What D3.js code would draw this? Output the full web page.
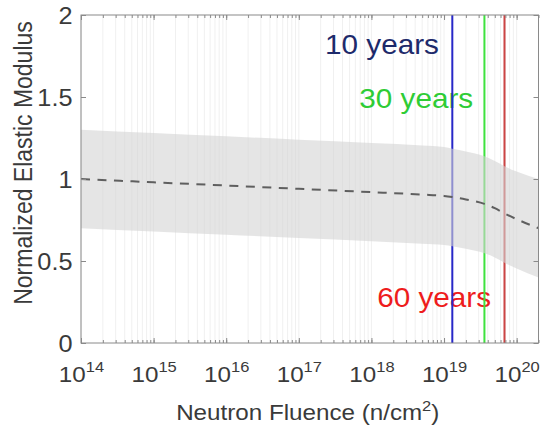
<!DOCTYPE html>
<html>
<head>
<meta charset="utf-8">
<script src="https://cdn.jsdelivr.net/npm/d3@7"></script>
<style>
  body { margin: 0; background: #fff; }
  text { font-family: Arial, "Liberation Sans", sans-serif; }
</style>
</head>
<body>
<div id="chart"></div>
<script>
// data
const fluence       = [1e14, 1e15, 1e16, 1e17, 1e18, 5e18, 1e19, 1.3e19, 2e19, 3.6e19, 5e19, 6.8e19, 1e20, 2e20];
const meanModulus   = [1.00, 0.98, 0.96, 0.94, 0.92, 0.905, 0.897, 0.89, 0.875, 0.848, 0.822, 0.79, 0.755, 0.70];
const upperModulus  = [1.30, 1.28, 1.26, 1.24, 1.22, 1.205, 1.195, 1.185, 1.168, 1.138, 1.11, 1.078, 1.045, 1.00];
const lowerModulus  = [0.70, 0.68, 0.66, 0.64, 0.62, 0.605, 0.597, 0.59, 0.575, 0.548, 0.522, 0.49, 0.455, 0.40];

const periodLabels  = ["10 years", "30 years", "60 years"];
const periodFluence = [1.3e19, 3.6e19, 6.8e19];

const xTickExponents = [14, 15, 16, 17, 18, 19, 20];
const yTickValues    = [0, 0.5, 1, 1.5, 2];


// layout
const W = 543, H = 430;
const margin = {top: 15, right: 4.5, bottom: 87, left: 81};
const width = W - margin.left - margin.right;
const height = H - margin.top - margin.bottom;
const stretch = 1.1;   // the source picture is slightly wider than tall

const svg = d3.select("#chart").append("svg")
  .attr("width", W)
  .attr("height", H);

const chart = svg.append("g")
  .attr("transform", `translate(${margin.left},${margin.top})`);


// scales
const x = d3.scaleLog()
  .domain([1e14, 2e20])
  .range([0, width]);

const y = d3.scaleLinear()
  .domain([0, 2])
  .range([height, 0]);


// minor tick values 1..9 x 10^n inside the domain
const minorValues = [];
for (let e = 14; e <= 20; e++) {
  for (let m = 1; m <= 9; m++) {
    const v = m * Math.pow(10, e);
    if (v <= 2e20) minorValues.push(v);
  }
}


// grid
chart.append("g")
  .attr("class", "grid")
  .selectAll("line")
  .data(minorValues)
  .join("line")
    .attr("x1", d => x(d))
    .attr("x2", d => x(d))
    .attr("y1", 0)
    .attr("y2", height)
    .attr("stroke", "#f0f0f0")
    .attr("stroke-width", 1);


// period labels (lines are drawn over them)
const labelColors = ["#1d2a6b", "#2ecc35", "#ee1c1c"];
const labelSpots  = [{f: 2.3e17, v: 1.76}, {f: 6.8e17, v: 1.43}, {f: 1.2e18, v: 0.22}];

chart.append("g")
  .selectAll("text")
  .data(periodLabels)
  .join("text")
    .attr("transform", (d, i) => `translate(${x(labelSpots[i].f)},${y(labelSpots[i].v)}) scale(${stretch},1)`)
    .attr("font-size", 27)
    .attr("fill", (d, i) => labelColors[i])
    .text(d => d);


// vertical period lines
const lineColors = ["#2828c8", "#3ee23e", "#cc4444"];

chart.append("g")
  .selectAll("line")
  .data(periodFluence)
  .join("line")
    .attr("x1", d => x(d))
    .attr("x2", d => x(d))
    .attr("y1", 0)
    .attr("y2", height)
    .attr("stroke", (d, i) => lineColors[i])
    .attr("stroke-width", 2);


// uncertainty band
const band = d3.area()
  .x((d, i) => x(fluence[i]))
  .y0((d, i) => y(lowerModulus[i]))
  .y1((d, i) => y(upperModulus[i]))
  .curve(d3.curveMonotoneX);

chart.append("path")
  .datum(fluence)
  .attr("d", band)
  .attr("fill", "#d4d4d4")
  .attr("fill-opacity", 0.6);


// mean curve
const meanLine = d3.line()
  .x((d, i) => x(fluence[i]))
  .y((d, i) => y(meanModulus[i]))
  .curve(d3.curveMonotoneX);

chart.append("path")
  .datum(fluence)
  .attr("d", meanLine)
  .attr("fill", "none")
  .attr("stroke", "#5f5f5f")
  .attr("stroke-width", 2)
  .attr("stroke-dasharray", "9,7.5");


// axes
const axisColor = "#8a8a8a";
const labelColor = "#3a3a3a";
const majorValues = xTickExponents.map(e => Math.pow(10, e));

function styleAxis(g) {
  g.selectAll(".domain").remove();
  g.selectAll(".tick line").attr("stroke", axisColor);
}

// minor ticks, bottom and top
chart.append("g")
  .attr("transform", `translate(0,${height})`)
  .call(d3.axisBottom(x).tickValues(minorValues).tickSize(-3).tickFormat(""))
  .call(styleAxis);

chart.append("g")
  .call(d3.axisTop(x).tickValues(minorValues).tickSize(-3).tickFormat(""))
  .call(styleAxis);

// major ticks, bottom with labels
const gx = chart.append("g")
  .attr("transform", `translate(0,${height})`)
  .call(d3.axisBottom(x).tickValues(majorValues).tickSize(-5))
  .call(styleAxis);

gx.selectAll(".tick text").each(function(d) {
  const t = d3.select(this);
  t.text(null)
    .attr("y", 39)
    .attr("dy", 0)
    .attr("fill", labelColor)
    .attr("font-size", 22)
    .attr("transform", `scale(${stretch},1)`);
  t.append("tspan").text("10");
  t.append("tspan")
    .attr("dy", -10)
    .attr("font-size", 15)
    .text(Math.round(Math.log10(d)));
});

chart.append("g")
  .call(d3.axisTop(x).tickValues(majorValues).tickSize(-5).tickFormat(""))
  .call(styleAxis);

// y axis, left with labels and right
chart.append("g")
  .call(d3.axisLeft(y).tickValues(yTickValues).tickSize(-5).tickFormat(d3.format("")))
  .call(styleAxis)
  .call(g => g.selectAll(".tick text")
    .attr("x", -8.5 / stretch)
    .attr("dy", "0.36em")
    .attr("fill", labelColor)
    .attr("font-size", 23)
    .attr("transform", `scale(${stretch},1)`));

chart.append("g")
  .attr("transform", `translate(${width},0)`)
  .call(d3.axisRight(y).tickValues(yTickValues).tickSize(-5).tickFormat(""))
  .call(styleAxis);

// box
chart.append("rect")
  .attr("width", width)
  .attr("height", height)
  .attr("fill", "none")
  .attr("stroke", axisColor)
  .attr("stroke-width", 1);


// axis titles
const xTitle = svg.append("text")
  .attr("transform", `translate(${margin.left + width / 2 - 2},420) scale(${stretch},1)`)
  .attr("text-anchor", "middle")
  .attr("font-size", 22)
  .attr("fill", labelColor);
xTitle.append("tspan").text("Neutron Fluence (n/cm");
xTitle.append("tspan").attr("dy", -9).attr("font-size", 15).text("2");
xTitle.append("tspan").attr("dy", 9).text(")");

svg.append("text")
  .attr("transform", `translate(32,${margin.top + height / 2 - 16}) scale(${stretch},1) rotate(-90)`)
  .attr("text-anchor", "middle")
  .attr("font-size", 23)
  .attr("fill", labelColor)
  .text("Normalized Elastic Modulus");
</script>
</body>
</html>
